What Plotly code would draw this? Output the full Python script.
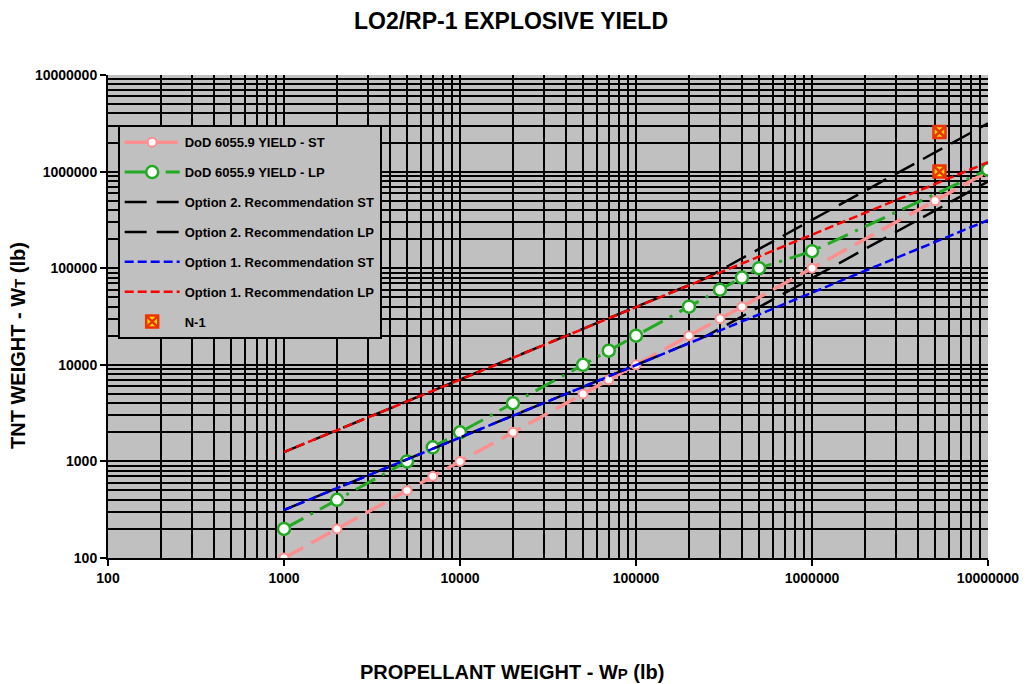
import plotly.graph_objects as go

# ---- data ----
prop_st = [1000, 2000, 5000, 7000, 10000, 20000, 50000, 70000, 100000, 200000, 300000, 400000, 1000000, 5000000, 10000000]
yield_st = [100, 200, 500, 700, 1000, 2000, 5000, 7000, 10000, 20000, 30000, 40000, 100000, 500000, 1000000]

prop_lp = [1000, 2000, 5000, 7000, 10000, 20000, 50000, 70000, 100000, 200000, 300000, 400000, 500000, 1000000, 10000000]
yield_lp = [200, 400, 1000, 1400, 2000, 4000, 10000, 14000, 20000, 40000, 60000, 80000, 100000, 150000, 1050000]

prop_opt2 = [1000, 10000, 100000, 250000, 1000000, 10000000]
opt2_st = [314, 1770, 9930, 19800, 79000, 790000]
opt2_lp = [1250, 7030, 39500, 79000, 316000, 3160000]

prop_opt1 = [1000, 10000, 100000, 1000000, 10000000]
opt1_st = [314, 1770, 9930, 55800, 314000]
opt1_lp = [1250, 7030, 39500, 222000, 1250000]

n1_prop = [5300000, 5300000]
n1_yield = [2570000, 1000000]

tick_vals = [100, 1000, 10000, 100000, 1000000, 10000000]
tick_text = ["100", "1000", "10000", "100000", "1000000", "10000000"]

FONT = "Liberation Sans, Arial, sans-serif"

fig = go.Figure()

fig.add_trace(go.Scatter(
    x=prop_st, y=yield_st, mode="lines+markers", name="DoD 6055.9 YIELD - ST",
    legendgroup="a",
    line=dict(color="#ff8f8f", width=3.5, dash="22px,9px"),
    marker=dict(symbol="circle", size=9, color="white", line=dict(color="#ff8f8f", width=2)),
))
fig.add_trace(go.Scatter(
    x=prop_lp, y=yield_lp, mode="lines+markers", name="DoD 6055.9 YIELD - LP",
    legendgroup="b",
    line=dict(color="#22aa22", width=3, dash="22px,8px,3px,8px"),
    marker=dict(symbol="circle", size=12, color="white", line=dict(color="#22aa22", width=2.5)),
))
fig.add_trace(go.Scatter(
    x=prop_opt2, y=opt2_st, mode="lines", name="Option 2. Recommendation ST",
    legendgroup="c",
    line=dict(color="black", width=2.5, dash="22px,10px"),
))
fig.add_trace(go.Scatter(
    x=prop_opt2, y=opt2_lp, mode="lines", name="Option 2. Recommendation LP",
    legendgroup="d",
    line=dict(color="black", width=2.5, dash="22px,10px"),
))
fig.add_trace(go.Scatter(
    x=prop_opt1, y=opt1_st, mode="lines", name="Option 1. Recommendation ST",
    legendgroup="e",
    line=dict(color="#0000ff", width=2.5, dash="9px,4px"),
))
fig.add_trace(go.Scatter(
    x=prop_opt1, y=opt1_lp, mode="lines", name="Option 1. Recommendation LP",
    legendgroup="f",
    line=dict(color="#ff0000", width=2.5, dash="9px,4px"),
))
fig.add_trace(go.Scatter(
    x=n1_prop, y=n1_yield, mode="markers", name="N-1",
    legendgroup="g",
    marker=dict(symbol="square-x", size=12, color="#ffdd00", line=dict(color="#ee3300", width=2.5)),
))

axis_common = dict(
    type="log", range=[2, 7], automargin=False,
    tickvals=tick_vals, ticktext=tick_text,
    tickfont=dict(family=FONT, size=14, color="black", weight="bold"),
    showgrid=True, gridcolor="black", gridwidth=2,
    minor=dict(dtick="D1", showgrid=True, gridcolor="black", gridwidth=2, ticks=""),
    showline=True, linecolor="black", linewidth=2,
    ticks="outside", ticklen=6, tickwidth=2, tickcolor="black",
    zeroline=False,
)

fig.update_xaxes(**axis_common)
fig.update_yaxes(**axis_common)

# page body has an 8px margin, so the figure is offset by 8px; size/margins compensate
fig.update_layout(
    width=1019, height=676,
    margin=dict(l=100, r=39, t=67, b=126),
    paper_bgcolor="white", plot_bgcolor="#c0c0c0",
    font=dict(family=FONT, color="black"),
    showlegend=True,
    legend=dict(
        x=0.011, y=0.896, xanchor="left", yanchor="top",
        bgcolor="#c0c0c0", bordercolor="black", borderwidth=2,
        font=dict(family=FONT, size=13, color="black", weight="bold"),
        tracegroupgap=10, itemwidth=55,
    ),
    annotations=[
        dict(text="LO2/RP-1 EXPLOSIVE YIELD",
             xref="paper", yref="paper", x=(511 - 108) / 880, y=(558 - 21) / 483,
             xanchor="center", yanchor="middle", showarrow=False,
             font=dict(family=FONT, size=23, color="black", weight="bold")),
        dict(text="PROPELLANT WEIGHT - W<span style='font-size:15px'>P</span> (lb)",
             xref="paper", yref="paper", x=(512 - 108) / 880, y=(558 - 672) / 483,
             xanchor="center", yanchor="middle", showarrow=False,
             font=dict(family=FONT, size=20, color="black", weight="bold")),
        dict(text="TNT WEIGHT - W<span style='font-size:15px'>T</span> (lb)",
             xref="paper", yref="paper", x=(18 - 108) / 880, y=(558 - 346) / 483,
             xanchor="center", yanchor="middle", showarrow=False, textangle=-90,
             font=dict(family=FONT, size=20, color="black", weight="bold")),
    ],
)

fig.write_html("out.html")
